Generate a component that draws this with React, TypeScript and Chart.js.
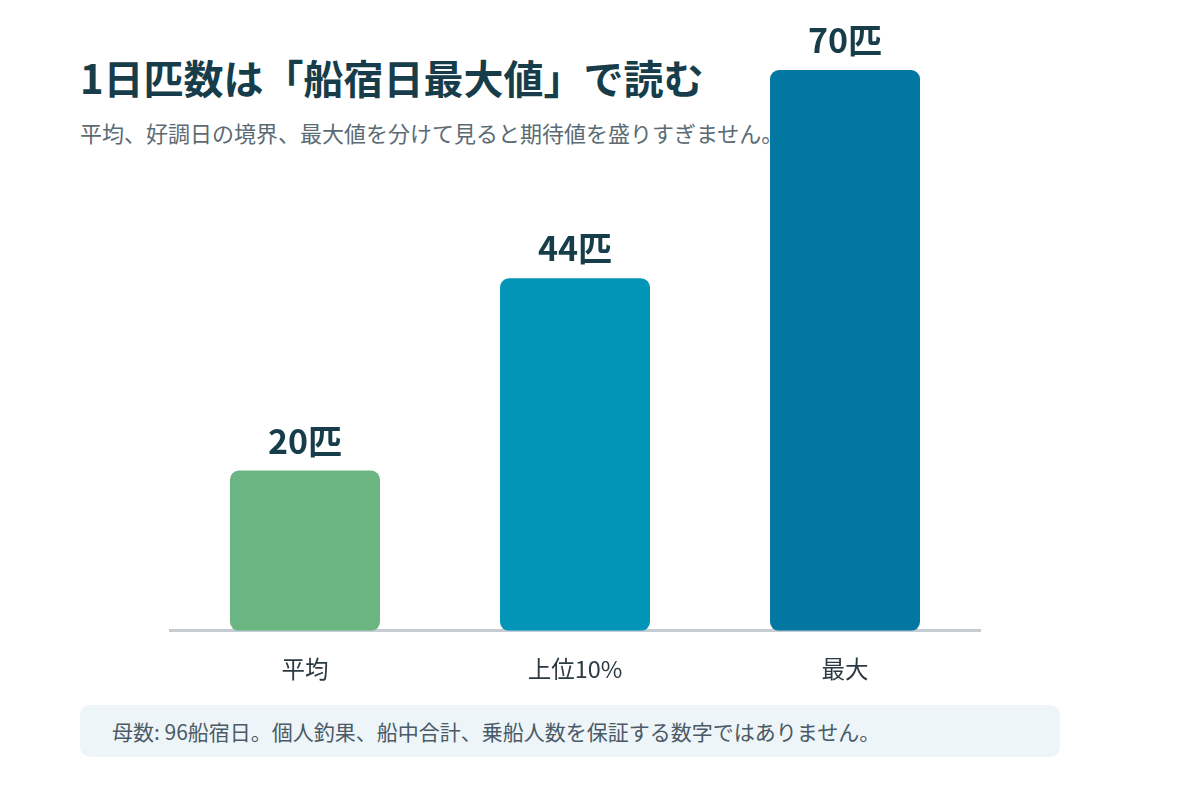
import { useEffect, useRef } from 'react';
import { Chart, registerables } from 'chart.js';

Chart.register(...registerables);

const categories = ['平均', '上位10%', '最大'];
const catchCounts = [20, 44, 70];
const barLabels = ['20匹', '44匹', '70匹'];
const barColors = ['#6bb583', '#0395b8', '#0277a2'];

const title = '1日匹数は「船宿日最大値」で読む';
const subtitle = '平均、好調日の境界、最大値を分けて見ると期待値を盛りすぎません。';
const footnote = '母数: 96船宿日。個人釣果、船中合計、乗船人数を保証する数字ではありません。';

const FONT = '"Noto Sans CJK JP", "Noto Sans", sans-serif';

const barLabelPlugin = {
  id: 'barLabels',
  afterDatasetsDraw(chart: Chart) {
    const { ctx } = chart;
    const meta = chart.getDatasetMeta(0);
    ctx.save();
    ctx.font = `bold 34px ${FONT}`;
    ctx.fillStyle = '#173d4a';
    ctx.textAlign = 'center';
    ctx.textBaseline = 'middle';
    meta.data.forEach((bar, i) => {
      ctx.fillText(barLabels[i], bar.x, bar.y - 30);
    });
    ctx.restore();
  },
};

export default function App() {
  const canvasRef = useRef<HTMLCanvasElement>(null);

  useEffect(() => {
    if (!canvasRef.current) return;
    const chart = new Chart(canvasRef.current, {
      type: 'bar',
      data: {
        labels: categories,
        datasets: [
          {
            data: catchCounts,
            backgroundColor: barColors,
            borderRadius: 9,
            borderSkipped: false,
            barPercentage: 150 / 270,
            categoryPercentage: 1,
          },
        ],
      },
      options: {
        responsive: true,
        maintainAspectRatio: false,
        animation: false,
        layout: { padding: { left: 170, right: 220, top: 30, bottom: 93 } },
        plugins: { legend: { display: false }, tooltip: { enabled: false } },
        scales: {
          y: { display: false, min: 0, max: 75 },
          x: {
            grid: { display: false, drawTicks: false },
            border: { display: true, color: '#c5cdd4', width: 3 },
            ticks: {
              padding: 24,
              color: '#2b3a42',
              font: { family: FONT, size: 23.5 },
            },
          },
        },
      },
      plugins: [barLabelPlugin],
    });
    return () => chart.destroy();
  }, []);

  return (
    <div
      style={{
        position: 'absolute',
        left: 0,
        top: 0,
        width: 1200,
        height: 800,
        background: '#ffffff',
        fontFamily: FONT,
        overflow: 'hidden',
      }}
    >
      <div
        style={{
          position: 'absolute',
          left: 80,
          top: 53,
          fontSize: 40,
          fontWeight: 700,
          color: '#173d4a',
          lineHeight: '48px',
          whiteSpace: 'nowrap',
        }}
      >
        {title}
      </div>
      <div
        style={{
          position: 'absolute',
          left: 80,
          top: 117,
          fontSize: 22,
          color: '#5b6b74',
          lineHeight: '30px',
          whiteSpace: 'nowrap',
        }}
      >
        {subtitle}
      </div>
      <div style={{ position: 'absolute', left: 0, top: 0, width: 1200, height: 800 }}>
        <canvas ref={canvasRef} />
      </div>
      <div
        style={{
          position: 'absolute',
          left: 80,
          top: 705,
          width: 980,
          height: 52,
          borderRadius: 10,
          background: '#edf5f8',
          boxSizing: 'border-box',
          paddingLeft: 32,
          display: 'flex',
          alignItems: 'center',
          fontSize: 21,
          color: '#4a5a66',
          whiteSpace: 'nowrap',
        }}
      >
        {footnote}
      </div>
    </div>
  );
}
